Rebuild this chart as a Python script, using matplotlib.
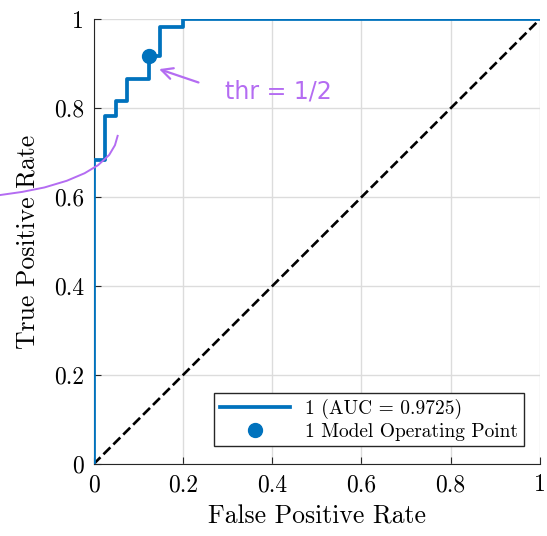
import numpy as np
import matplotlib.pyplot as plt

plt.rcParams["font.family"] = ["cmr10", "DejaVu Serif"]
plt.rcParams["axes.formatter.use_mathtext"] = True

# ROC curve (40 negatives, 60 positives)
fpr = [0, 0, 0.025, 0.025, 0.05, 0.05, 0.075, 0.075, 0.125, 0.125, 0.15, 0.15, 0.2, 0.2, 1.0]
tpr = [0, 41/60, 41/60, 47/60, 47/60, 49/60, 49/60, 52/60, 52/60, 55/60, 55/60, 59/60, 59/60, 1.0, 1.0]
op_fpr, op_tpr = 0.125, 55 / 60
auc = 0.9725

# handwritten notes (data coords)
note_text = "thr = 1/2"
note_pos = (0.295, 0.838)
arrow_tail = (0.241, 0.856)
arrow_head = (0.141, 0.890)
scribble_x = [-0.209, -0.16, -0.11, -0.06, -0.02, 0.01, 0.035, 0.048, 0.054]
scribble_y = [0.605, 0.612, 0.622, 0.637, 0.654, 0.672, 0.695, 0.717, 0.738]

blue = "#0072BD"
purple = "#b46cf2"

fig = plt.figure(figsize=(5.47, 5.36), dpi=100)
ax = fig.add_axes([0.171, 0.134, 0.816, 0.830])

ax.plot(fpr, tpr, color=blue, lw=2.7, label=f"1 (AUC = {auc})", zorder=3)
ax.plot([0, 1], [0, 1], "k--", lw=1.9, zorder=2)
ax.plot(op_fpr, op_tpr, "o", color=blue, ms=10, ls="none",
        label="1 Model Operating Point", zorder=4)

ax.set_xlim(0, 1)
ax.set_ylim(0, 1)
ax.set_xticks([0, 0.2, 0.4, 0.6, 0.8, 1])
ax.set_yticks([0, 0.2, 0.4, 0.6, 0.8, 1])
ax.set_xticklabels(["0", "0.2", "0.4", "0.6", "0.8", "1"])
ax.set_yticklabels(["0", "0.2", "0.4", "0.6", "0.8", "1"])
ax.tick_params(direction="in", labelsize=17, length=5, color="#262626", pad=7)
ax.grid(True, color="#dcdcdc", lw=1)
ax.set_axisbelow(True)
for s in ["top", "right"]:
    ax.spines[s].set_visible(False)
for s in ["left", "bottom"]:
    ax.spines[s].set_color("#262626")
ax.set_xlabel("False Positive Rate", fontsize=18.5, labelpad=6)
ax.set_ylabel("True Positive Rate", fontsize=18.5, labelpad=10)

leg = ax.legend(loc="lower right", fontsize=14, frameon=True, fancybox=False,
                edgecolor="#262626", framealpha=1, handlelength=3.6,
                borderpad=0.3, labelspacing=0.2, handletextpad=0.8,
                borderaxespad=0, bbox_to_anchor=(0.965, 0.04))
leg.get_frame().set_linewidth(1)

# purple annotations
ax.annotate("", xy=arrow_head, xytext=arrow_tail,
            arrowprops=dict(arrowstyle="->", color=purple, lw=1.6,
                            mutation_scale=20))
ax.text(note_pos[0], note_pos[1], note_text, color=purple, fontsize=17,
        family="DejaVu Sans", va="center")
ax.plot(scribble_x, scribble_y, color=purple, lw=1.4, clip_on=False, zorder=5)

fig.savefig("out.png", dpi=100)
